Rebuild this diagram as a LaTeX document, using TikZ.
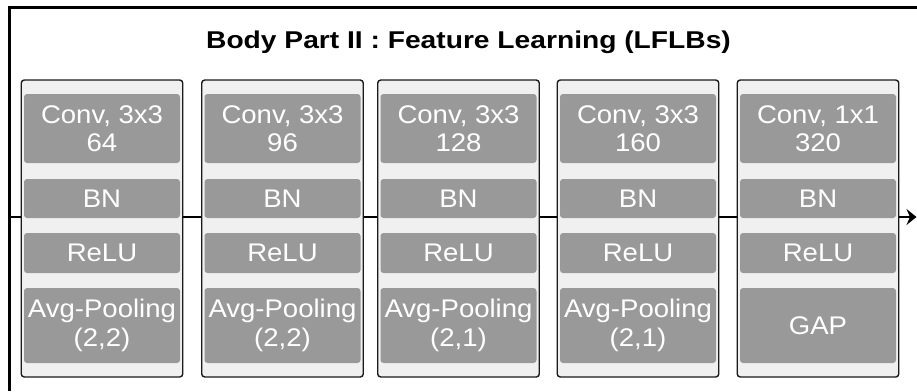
\documentclass[tikz,border=0pt]{standalone}
\usepackage{fontspec}
\setmainfont{Liberation Sans}
\newfontfamily\boxfont[FakeStretch=1.08]{Liberation Sans}
\newfontfamily\headfont[FakeStretch=1.16]{Liberation Sans Bold}
\usetikzlibrary{arrows.meta}
\definecolor{blockfill}{HTML}{F0F0F0}
\definecolor{layerfill}{HTML}{999999}
\definecolor{edge}{HTML}{1A1A1A}
\tikzset{
  block/.style={draw=edge, line width=1.4pt, fill=blockfill, rounded corners=3pt,
    minimum width=161.5pt, minimum height=297pt, inner sep=0pt},
  layer/.style={fill=layerfill, rounded corners=3pt, text=white, align=center,
    minimum width=156pt, inner sep=0pt,
    font=\boxfont\fontsize{25.5}{28.5}\selectfont},
  flow/.style={line width=2.5pt, draw=black},
}
\begin{document}
\begin{tikzpicture}[x=1pt, y=-1pt]
  \useasboundingbox (0,0) rectangle (917,391);
  % frame
  \draw[line width=3pt] (9,391) -- (9,7) -- (917,7);
  % title
  \node[anchor=base, inner sep=0pt, font=\headfont\fontsize{24.3}{27}\selectfont]
    (title) at (468.5,48.3) {Body Part II : Feature Learning (LFLBs)};
  % blocks
  \foreach \i/\cx/\conv/\pool in {1/102/{Conv, 3x3\\64}/{Avg-Pooling\\(2,2)},
                                  2/282.5/{Conv, 3x3\\96}/{Avg-Pooling\\(2,2)},
                                  3/458.5/{Conv, 3x3\\128}/{Avg-Pooling\\(2,1)},
                                  4/638/{Conv, 3x3\\160}/{Avg-Pooling\\(2,1)},
                                  5/818/{Conv, 1x1\\320}/{GAP}} {
    \node[block] (b\i) at (\cx,228.5) {};
    \node[layer, minimum height=69pt] (conv\i) at (\cx,128.5) {\conv};
    \node[layer, minimum height=39pt] (bn\i) at (\cx,198.5) {BN};
    \node[layer, minimum height=40pt] (relu\i) at (\cx,253) {ReLU};
    \node[layer, minimum height=75pt] (pool\i) at (\cx,325.5) {\pool};
  }
  % data flow through the blocks
  \coordinate (in) at (9,217);
  \coordinate (out) at (916.5,217);
  \draw[flow] (in) -- (in -| b1.west);
  \draw[flow] (in -| b1.east) -- (in -| b2.west);
  \draw[flow] (in -| b2.east) -- (in -| b3.west);
  \draw[flow] (in -| b3.east) -- (in -| b4.west);
  \draw[flow] (in -| b4.east) -- (in -| b5.west);
  \draw[flow, -{Stealth[length=10pt, width=16pt, inset=3.5pt]}] (in -| b5.east) -- (out);
\end{tikzpicture}
\end{document}
